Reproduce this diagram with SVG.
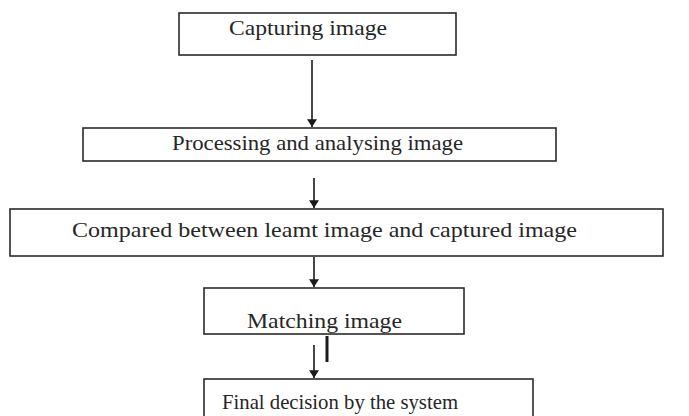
<svg xmlns="http://www.w3.org/2000/svg" width="689" height="416" viewBox="0 0 689 416">
<style>
.box{fill:#fff;stroke:#2a2a2a;stroke-width:1.6}
.lbl{font-family:"Liberation Serif","Times New Roman",serif;font-size:22px;fill:#262626}
.conn{stroke:#1a1a1a;stroke-width:1.6;fill:none}
</style>
<defs>
<marker id="ah" viewBox="0 0 10 13" refX="10" refY="6.5" markerWidth="13" markerHeight="10" markerUnits="userSpaceOnUse" orient="auto">
<path d="M0,0 L10,6.5 L0,13 Z" fill="#1a1a1a"/>
</marker>
</defs>
<rect width="689" height="416" fill="#fff"/>
<g id="n1"><rect class="box" x="179" y="13" width="277" height="42"/><text class="lbl" x="229" y="35" textLength="158" lengthAdjust="spacingAndGlyphs">Capturing image</text></g>
<g id="n2"><rect class="box" x="83" y="128" width="473" height="33"/><text class="lbl" x="172" y="150" textLength="291" lengthAdjust="spacingAndGlyphs">Processing and analysing image</text></g>
<g id="n3"><rect class="box" x="10" y="209" width="653" height="47"/><text class="lbl" x="72" y="237" textLength="505" lengthAdjust="spacingAndGlyphs">Compared between leamt image and captured image</text></g>
<g id="n4"><rect class="box" x="204" y="288" width="260" height="46"/><text class="lbl" x="247" y="328" textLength="155" lengthAdjust="spacingAndGlyphs">Matching image</text></g>
<g id="n5"><rect class="box" x="204" y="379" width="329" height="45"/><text class="lbl" x="222" y="409" textLength="236" lengthAdjust="spacingAndGlyphs">Final decision by the system</text></g>
<g id="connectors">
<line class="conn" x1="312" y1="60" x2="312" y2="127" marker-end="url(#ah)"/>
<line class="conn" x1="314" y1="178" x2="314" y2="208" marker-end="url(#ah)"/>
<line class="conn" x1="314" y1="257" x2="314" y2="287" marker-end="url(#ah)"/>
<line class="conn" x1="314" y1="345" x2="314" y2="378" marker-end="url(#ah)"/>
<line x1="327" y1="336" x2="327" y2="362" stroke="#1a1a1a" stroke-width="3"/>
</g>
</svg>
